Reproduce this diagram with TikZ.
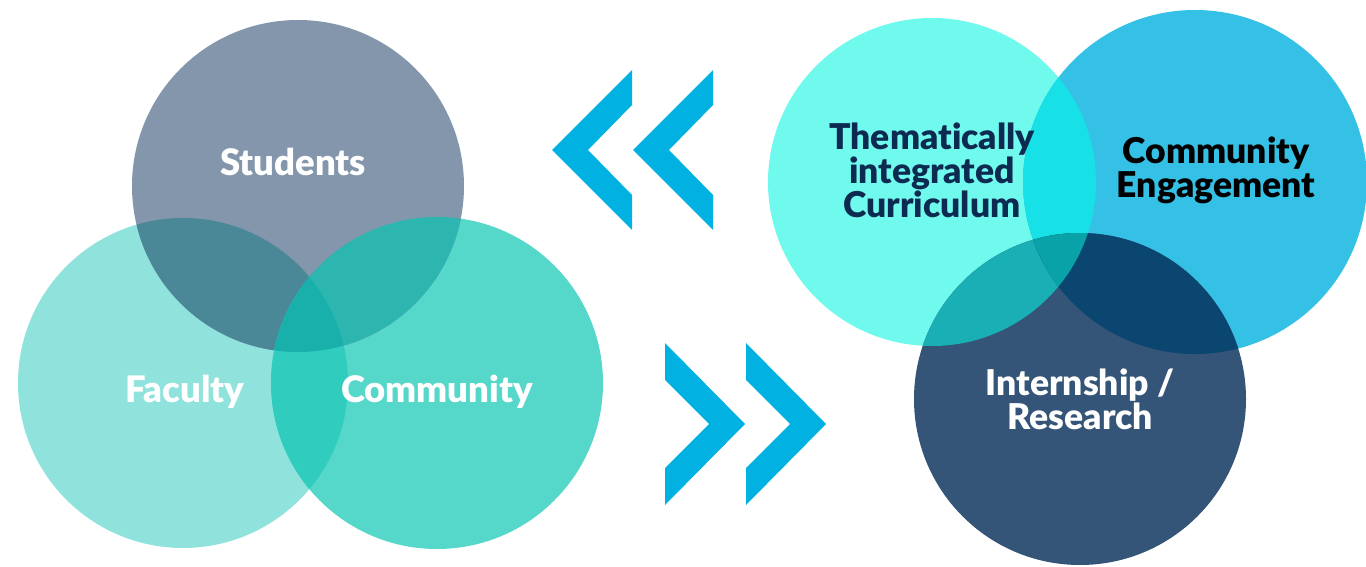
\documentclass[tikz,border=0pt]{standalone}
\usepackage{fontspec}
\setmainfont{Lato}[Ligatures=NoCommon, BoldFont={Lato Black}]
\definecolor{cStud}{HTML}{8496AB}
\definecolor{cFac}{HTML}{8FE3DC}
\definecolor{cCom}{HTML}{55D7CA}
\definecolor{cSF}{HTML}{4A8898}
\definecolor{cSC}{HTML}{2DB5B0}
\definecolor{cFC}{HTML}{30CDBF}
\definecolor{cSFC}{HTML}{19B0AB}
\definecolor{cThem}{HTML}{70FAEE}
\definecolor{cEng}{HTML}{35C0E6}
\definecolor{cInt}{HTML}{345577}
\definecolor{cTE}{HTML}{17E0E6}
\definecolor{cTI}{HTML}{19AFB4}
\definecolor{cEI}{HTML}{0B4670}
\definecolor{cTEI}{HTML}{08A2A8}
\definecolor{cArrow}{HTML}{00B1E1}
\definecolor{cNavy}{HTML}{0D2A50}
\begin{document}
\begin{tikzpicture}[x=1pt,y=-1pt,
  lbl/.style={font=\fontsize{36.5}{38}\selectfont\bfseries, text=white, align=center, inner sep=0pt},
  rlbl/.style={font=\fontsize{35.5}{34}\selectfont\bfseries, align=center, inner sep=0pt},
  chev/.style={fill=cArrow, draw=none}]
\useasboundingbox (0,0) rectangle (1366,567);
% ---------- left Venn ----------
\def\Stud{(298,186) circle (166)}
\def\Fac{(183,383) circle (165)}
\def\Com{(437,383) circle (166)}
\fill[cFac] \Fac;
\fill[cCom] \Com;
\fill[cStud] \Stud;
\begin{scope}\clip \Stud; \fill[cSF] \Fac; \end{scope}
\begin{scope}\clip \Stud; \fill[cSC] \Com; \end{scope}
\begin{scope}\clip \Fac; \fill[cFC] \Com; \end{scope}
\begin{scope}\clip \Stud; \clip \Fac; \fill[cSFC] \Com; \end{scope}
\node[lbl] (students) at (293,162) {Students};
\node[lbl] (faculty) at (185,392) {Faculty};
\node[lbl] (community) at (437,392) {Community};
% ---------- chevrons ----------
\foreach \x in {552,633}{
  \fill[chev] (\x,150) -- (\x+80,70) -- (\x+80,105) -- (\x+36,150) -- (\x+80,195) -- (\x+80,230) -- cycle;
}
\foreach \x in {665,746}{
  \fill[chev] (\x,343) -- (\x+80,424) -- (\x,505) -- (\x,468) -- (\x+44,424) -- (\x,380) -- cycle;
}
% ---------- right Venn ----------
\def\Them{(932,182) circle (164)}
\def\Eng{(1195,182) circle (172)}
\def\Int{(1080,399) circle (166)}
\fill[cThem] \Them;
\fill[cEng] \Eng;
\fill[cInt] \Int;
\begin{scope}\clip \Them; \fill[cTE] \Eng; \end{scope}
\begin{scope}\clip \Them; \fill[cTI] \Int; \end{scope}
\begin{scope}\clip \Eng; \fill[cEI] \Int; \end{scope}
\begin{scope}\clip \Them; \clip \Eng; \fill[cTEI] \Int; \end{scope}
\node[rlbl, text=cNavy] (theme) at (932,170) {Thematically\\integrated\\Curriculum};
\node[rlbl, text=black] (engage) at (1216,170) {Community\\Engagement};
\node[rlbl, text=white] (intern) at (1080,399) {Internship /\\Research};
\end{tikzpicture}
\end{document}
